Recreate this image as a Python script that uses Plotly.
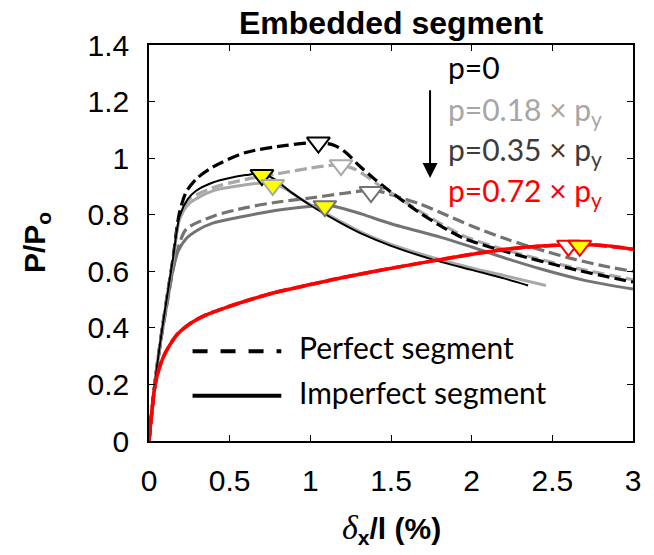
import plotly.graph_objects as go

# ---------------- data ----------------
x_ticks = [0, 0.5, 1, 1.5, 2, 2.5, 3]
x_ticklabels = ["0", "0.5", "1", "1.5", "2", "2.5", "3"]
y_ticks = [0, 0.2, 0.4, 0.6, 0.8, 1.0, 1.2, 1.4]
y_ticklabels = ["0", "0.2", "0.4", "0.6", "0.8", "1", "1.2", "1.4"]

# p = 0
p0_perf_x = [0, 0.04, 0.08, 0.12, 0.15, 0.17, 0.19, 0.23, 0.30, 0.40, 0.60, 0.85, 1.05, 1.15, 1.22, 1.30, 1.40, 1.50, 1.67, 1.81, 1.95, 2.22, 2.64, 3.00]
p0_perf_y = [0, 0.22, 0.39, 0.54, 0.65, 0.74, 0.81, 0.88, 0.93, 0.97, 1.02, 1.045, 1.055, 1.045, 1.02, 0.975, 0.925, 0.88, 0.81, 0.76, 0.717, 0.668, 0.606, 0.562]
p0_imp_x = [0, 0.04, 0.08, 0.12, 0.15, 0.19, 0.24, 0.29, 0.40, 0.50, 0.60, 0.70, 0.78, 0.88, 1.01, 1.19, 1.32, 1.50, 1.75, 2.00, 2.20, 2.35]
p0_imp_y = [0, 0.22, 0.39, 0.54, 0.65, 0.795, 0.855, 0.884, 0.915, 0.93, 0.94, 0.945, 0.925, 0.88, 0.83, 0.77, 0.732, 0.69, 0.643, 0.605, 0.575, 0.550]

# p = 0.18 py
p18_perf_x = [0, 0.04, 0.08, 0.12, 0.15, 0.19, 0.25, 0.40, 0.60, 0.85, 1.00, 1.14, 1.20, 1.28, 1.35, 1.45, 1.55, 1.67, 1.81, 1.95, 2.22, 2.64, 3.00]
p18_perf_y = [0, 0.22, 0.39, 0.54, 0.64, 0.80, 0.855, 0.896, 0.925, 0.95, 0.965, 0.975, 0.975, 0.96, 0.935, 0.895, 0.86, 0.815, 0.768, 0.725, 0.674, 0.612, 0.570]
p18_imp_x = [0, 0.04, 0.08, 0.12, 0.15, 0.19, 0.25, 0.395, 0.50, 0.60, 0.70, 0.77, 0.85, 0.93, 1.01, 1.19, 1.32, 1.50, 1.75, 2.00, 2.20, 2.46]
p18_imp_y = [0, 0.22, 0.39, 0.54, 0.64, 0.784, 0.84, 0.884, 0.897, 0.906, 0.912, 0.912, 0.89, 0.86, 0.832, 0.775, 0.737, 0.695, 0.650, 0.612, 0.585, 0.550]

# p = 0.35 py
p35_perf_x = [0, 0.04, 0.08, 0.116, 0.14, 0.17, 0.23, 0.40, 0.60, 0.80, 1.01, 1.20, 1.32, 1.38, 1.45, 1.55, 1.67, 1.81, 2.00, 2.22, 2.45, 2.64, 2.85, 3.00]
p35_perf_y = [0, 0.22, 0.38, 0.50, 0.58, 0.66, 0.748, 0.795, 0.825, 0.845, 0.86, 0.875, 0.884, 0.885, 0.88, 0.862, 0.84, 0.807, 0.76, 0.713, 0.672, 0.642, 0.615, 0.600]
p35_imp_x = [0, 0.04, 0.08, 0.116, 0.147, 0.18, 0.23, 0.30, 0.395, 0.55, 0.705, 0.85, 1.01, 1.09, 1.19, 1.32, 1.50, 1.81, 2.00, 2.20, 2.43, 2.70, 3.00]
p35_imp_y = [0, 0.22, 0.38, 0.50, 0.60, 0.67, 0.715, 0.745, 0.77, 0.79, 0.807, 0.82, 0.83, 0.834, 0.824, 0.802, 0.768, 0.72, 0.686, 0.648, 0.608, 0.568, 0.537]

# p = 0.72 py
p72_perf_x = [0, 0.015, 0.033, 0.05, 0.074, 0.10, 0.136, 0.18, 0.26, 0.35, 0.467, 0.60, 0.78, 1.00, 1.15, 1.40, 1.75, 2.00, 2.20, 2.43, 2.60, 2.75, 2.90, 3.00]
p72_perf_y = [0, 0.09, 0.18, 0.23, 0.275, 0.31, 0.346, 0.38, 0.417, 0.445, 0.47, 0.495, 0.525, 0.553, 0.572, 0.60, 0.636, 0.660, 0.677, 0.689, 0.694, 0.693, 0.685, 0.678]
p72_imp_x = [0, 0.015, 0.033, 0.05, 0.074, 0.10, 0.136, 0.18, 0.26, 0.35, 0.467, 0.60, 0.78, 1.00, 1.15, 1.40, 1.75, 2.00, 2.20, 2.43, 2.67, 2.80, 2.90, 3.00]
p72_imp_y = [0, 0.09, 0.18, 0.23, 0.275, 0.31, 0.346, 0.38, 0.417, 0.445, 0.47, 0.495, 0.525, 0.553, 0.572, 0.60, 0.636, 0.660, 0.677, 0.689, 0.695, 0.692, 0.686, 0.678]

# peak markers (perfect: open, imperfect: yellow)
perf_peak_x = [1.05, 1.19, 1.376, 2.60]
perf_peak_y = [1.055, 0.975, 0.880, 0.690]
imp_peak_x = [0.70, 0.767, 1.09, 2.67]
imp_peak_y = [0.940, 0.905, 0.830, 0.690]

series_labels = ["p=0", "p=0.18 × p<sub>y</sub>", "p=0.35 × p<sub>y</sub>", "p=0.72 × p<sub>y</sub>"]
legend_labels = ["Perfect segment", "Imperfect segment"]

# ---------------- styles ----------------
line_colors = ["#000000", "#a8a8a8", "#737373", "#ff0000"]
text_colors = ["#000000", "#a6a6a6", "#3c3c3c", "#ff0000"]
DASH = "12px,5px"
AX_FONT = "Arial, Liberation Sans, sans-serif"
TXT_FONT = "Lato, Open Sans, sans-serif"

fig = go.Figure()

def add_line(x, y, color, dash, width):
    fig.add_trace(go.Scatter(x=x, y=y, mode="lines",
                             line=dict(color=color, dash=dash, width=width, shape="spline", smoothing=0.8),
                             showlegend=False, hoverinfo="skip"))

# perfect (dashed)
add_line(p35_perf_x, p35_perf_y, line_colors[2], DASH, 3.2)
add_line(p18_perf_x, p18_perf_y, line_colors[1], DASH, 3.2)
add_line(p0_perf_x, p0_perf_y, line_colors[0], DASH, 3.2)
# imperfect (solid)
add_line(p35_imp_x, p35_imp_y, line_colors[2], "solid", 3)
add_line(p18_imp_x, p18_imp_y, line_colors[1], "solid", 3)
add_line(p0_imp_x, p0_imp_y, line_colors[0], "solid", 2)
# red
add_line(p72_perf_x, p72_perf_y, line_colors[3], DASH, 3.5)
add_line(p72_imp_x, p72_imp_y, line_colors[3], "solid", 3.5)

# markers
fig.add_trace(go.Scatter(x=perf_peak_x, y=perf_peak_y, mode="markers",
                         marker=dict(symbol="triangle-down", size=20, color="white",
                                     line=dict(color=line_colors, width=2)),
                         showlegend=False, hoverinfo="skip"))
fig.add_trace(go.Scatter(x=imp_peak_x, y=imp_peak_y, mode="markers",
                         marker=dict(symbol="triangle-down", size=20, color="#ffff00",
                                     line=dict(color=line_colors, width=2)),
                         showlegend=False, hoverinfo="skip"))

# series labels
label_y = [1.323, 1.167, 1.025, 0.880]
for txt, col, yy in zip(series_labels, text_colors, label_y):
    fig.add_annotation(x=1.84, y=yy, xref="x", yref="y", text=txt, showarrow=False,
                       xanchor="left", yanchor="middle",
                       font=dict(family=TXT_FONT, size=30, color=col))

# arrow
fig.add_annotation(x=1.742, y=0.93, ax=1.742, ay=1.245, xref="x", yref="y", axref="x", ayref="y",
                   text="", showarrow=True, arrowhead=2, arrowwidth=2, arrowsize=1.5, arrowcolor="black")

# legend lines (shapes) and texts
fig.add_shape(type="line", x0=0.27, x1=0.82, y0=0.317, y1=0.317, xref="x", yref="y",
              line=dict(color="black", width=4, dash="15px,13px"))
fig.add_shape(type="line", x0=0.27, x1=0.82, y0=0.16, y1=0.16, xref="x", yref="y",
              line=dict(color="black", width=4))
fig.add_annotation(x=0.92, y=0.334, xref="x", yref="y", text=legend_labels[0], showarrow=False,
                   xanchor="left", yanchor="middle", font=dict(family=TXT_FONT, size=30, color="black"))
fig.add_annotation(x=0.92, y=0.175, xref="x", yref="y", text=legend_labels[1], showarrow=False,
                   xanchor="left", yanchor="middle", font=dict(family=TXT_FONT, size=30, color="black"))

# titles
fig.add_annotation(x=0.5, y=1.0, xref="paper", yref="paper", yshift=22, text="<b>Embedded segment</b>",
                   showarrow=False, xanchor="center", yanchor="middle",
                   font=dict(family=AX_FONT, size=32, color="black"))
fig.add_annotation(x=0, y=0.5, xref="paper", yref="paper", xshift=-113, text="<b>P/P<sub>o</sub></b>",
                   showarrow=False, textangle=-90, xanchor="center", yanchor="middle",
                   font=dict(family=AX_FONT, size=30, color="black"))
fig.add_annotation(x=0.5, y=0, xref="paper", yref="paper", yshift=-88,
                   text="<i><span style='font-family:Liberation Serif, Times New Roman, serif;font-weight:normal;font-size:34px'>δ</span></i><b><sub>x</sub>/l (%)</b>",
                   showarrow=False, xanchor="center", yanchor="middle",
                   font=dict(family=AX_FONT, size=30, color="black"))

axis_common = dict(showline=True, linecolor="black", linewidth=1.5, mirror="ticks",
                   ticks="inside", ticklen=6, tickwidth=1.3, tickcolor="black",
                   showgrid=False, zeroline=False,
                   tickfont=dict(family=AX_FONT, size=30, color="black"))
fig.update_xaxes(range=[0, 3], tickvals=x_ticks, ticktext=x_ticklabels, ticklabelstandoff=12, **axis_common)
fig.update_yaxes(range=[0, 1.4], tickvals=y_ticks, ticktext=y_ticklabels, ticklabelstandoff=12, **axis_common)

fig.update_layout(width=654, height=555, margin=dict(l=149, r=21, t=45, b=114),
                  plot_bgcolor="white", paper_bgcolor="white", showlegend=False)

fig.write_html("out.html", config={"displayModeBar": False},
               post_script="document.body.style.margin='0';")
